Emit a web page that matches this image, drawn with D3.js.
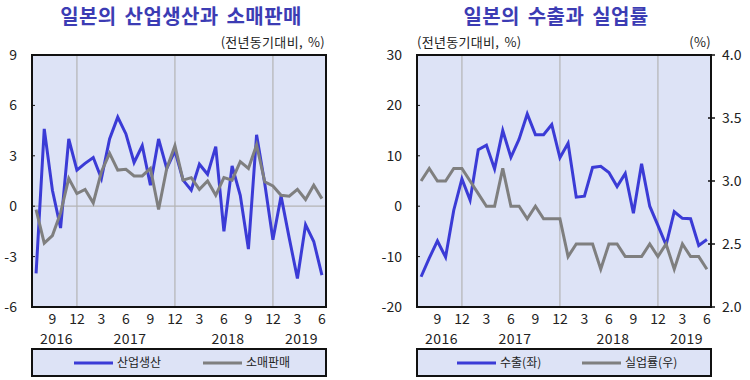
<!DOCTYPE html>
<html><head><meta charset="utf-8">
<script src="https://cdn.jsdelivr.net/npm/d3@7"></script>
<style>
html,body{margin:0;padding:0;background:#fff;}
svg{display:block;font-family:"Noto Sans CJK KR","Noto Sans",sans-serif;}
</style></head>
<body><svg id="c" width="750" height="380"></svg>
<script>
const months = ["2016-07","2016-08","2016-09","2016-10","2016-11","2016-12",
"2017-01","2017-02","2017-03","2017-04","2017-05","2017-06","2017-07","2017-08","2017-09","2017-10","2017-11","2017-12",
"2018-01","2018-02","2018-03","2018-04","2018-05","2018-06","2018-07","2018-08","2018-09","2018-10","2018-11","2018-12",
"2019-01","2019-02","2019-03","2019-04","2019-05","2019-06"];
const tickMonths = ["2016-09","2016-12","2017-03","2017-06","2017-09","2017-12","2018-03","2018-06","2018-09","2018-12","2019-03","2019-06"];
const tickLabels = ["9","12","3","6","9","12","3","6","9","12","3","6"];
const gridMonths = ["2016-12","2017-12","2018-12"];
const years = ["2016","2017","2018","2019"];
const yearSpans = [["2016-07","2016-12"],["2017-01","2017-12"],["2018-01","2018-12"],["2019-01","2019-06"]];

const industrialProduction = [-4.0,4.6,0.95,-1.3,4.0,2.15,2.55,2.9,1.65,4.0,5.3,4.3,2.6,3.6,1.25,4.0,2.25,3.3,
 1.55,0.95,2.5,1.9,3.55,-1.5,2.4,0.65,-2.55,4.25,1.35,-2.0,0.6,-1.9,-4.3,-1.1,-2.1,-4.1];
const retailSales = [-0.2,-2.2,-1.75,-0.4,1.65,0.75,1.0,0.2,2.05,3.15,2.15,2.2,1.8,1.8,2.25,-0.2,2.25,3.6,
 1.55,1.7,1.0,1.5,0.65,1.7,1.55,2.65,2.25,3.65,1.45,1.2,0.65,0.6,1.0,0.4,1.25,0.45];
const exportsYoY = [-14.0,-10.3,-6.9,-10.1,-0.8,5.4,1.2,11.2,12.1,7.4,15.0,9.7,13.3,18.3,14.2,14.2,16.2,9.6,
 12.5,1.8,2.0,7.7,7.9,6.7,3.9,6.5,-1.4,8.4,0.0,-3.8,-7.7,-1.1,-2.4,-2.5,-7.8,-6.6];
const unemployment = [3.0,3.1,3.0,3.0,3.1,3.1,3.0,2.9,2.8,2.8,3.1,2.8,2.8,2.7,2.8,2.7,2.7,2.7,
 2.4,2.5,2.5,2.5,2.3,2.5,2.5,2.4,2.4,2.4,2.5,2.4,2.5,2.3,2.5,2.4,2.4,2.3];

const leftTicks = [9,6,3,0,-3,-6];
const exportTicks = [30,20,10,0,-10,-20];
const unempTicks = [4.0,3.5,3.0,2.5,2.0];

const BLUE = "#3b3bd6", GRAY = "#7f7f7f", BG = "#dde3f6", TITLE = "#3c3cb4", TXT = "#222";
const svg = d3.select("#c");
const plotTop = 55, plotBottom = 307;

function drawPanel(cfg){
  const g = svg.append("g");
  const x = d3.scalePoint().domain(months).range([cfg.x0, cfg.x1]).padding(0.5);
  const yL = d3.scaleLinear().domain(cfg.yDomain).range([plotBottom, plotTop]);
  g.append("rect").attr("x",cfg.x0).attr("y",plotTop).attr("width",cfg.x1-cfg.x0).attr("height",plotBottom-plotTop).attr("fill",BG);
  g.selectAll(".vg").data(gridMonths).join("line")
    .attr("x1",d=>x(d)).attr("x2",d=>x(d)).attr("y1",plotTop).attr("y2",plotBottom)
    .attr("stroke","#b4b4b4").attr("stroke-width",1.2);
  if(cfg.zeroLine){
    g.append("line").attr("x1",cfg.x0).attr("x2",cfg.x1).attr("y1",yL(0)).attr("y2",yL(0))
      .attr("stroke","#b4b4b4").attr("stroke-width",1.2);
  }
  cfg.series.forEach(s=>{
    const y = s.scale || yL;
    const line = d3.line().x((d,i)=>x(months[i])).y(d=>y(d));
    g.append("path").datum(s.values).attr("d",line).attr("fill","none")
      .attr("stroke",s.color).attr("stroke-width",3).attr("stroke-linejoin","miter");
  });
  g.append("rect").attr("x",cfg.x0).attr("y",plotTop).attr("width",cfg.x1-cfg.x0).attr("height",plotBottom-plotTop)
    .attr("fill","none").attr("stroke","#111").attr("stroke-width",2);
  g.selectAll(".yl").data(cfg.leftTicks).join("text")
    .attr("x",cfg.x0-15).attr("y",d=>yL(d)).attr("dy","0.36em").attr("text-anchor","end")
    .attr("font-size",14).attr("fill",TXT).text(d=>d);
  g.selectAll(".ytk").data(cfg.leftTicks).join("line")
    .attr("x1",cfg.x0).attr("x2",cfg.x0+3).attr("y1",d=>yL(d)).attr("y2",d=>yL(d)).attr("stroke","#111").attr("stroke-width",1);
  if(cfg.right){
    const yR = cfg.right.scale;
    g.selectAll(".yr").data(cfg.right.ticks).join("text")
      .attr("x",cfg.x1+11).attr("y",d=>yR(d)).attr("dy","0.36em").attr("text-anchor","start")
      .attr("font-size",14).attr("fill",TXT).text(d=>d.toFixed(1));
    g.selectAll(".rtk").data(cfg.right.ticks).join("line")
      .attr("x1",cfg.x1-3).attr("x2",cfg.x1+4).attr("y1",d=>yR(d)).attr("y2",d=>yR(d)).attr("stroke","#111").attr("stroke-width",1.5);
  }
  g.selectAll(".xt").data(tickMonths).join("text")
    .attr("x",d=>x(d)).attr("y",324).attr("text-anchor","middle")
    .attr("font-size",14).attr("fill",TXT).text((d,i)=>tickLabels[i]);
  g.selectAll(".yr2").data(years).join("text")
    .attr("x",(d,i)=>(x(yearSpans[i][0])+x(yearSpans[i][1]))/2).attr("y",344).attr("text-anchor","middle")
    .attr("font-size",14).attr("letter-spacing",0.5).attr("fill",TXT).text(d=>d);
  g.append("text").attr("x",cfg.titleX).attr("y",24).attr("text-anchor","middle")
    .attr("font-size",20).attr("font-weight","bold").attr("letter-spacing",0.4).attr("word-spacing",3)
    .attr("fill",TITLE).text(cfg.title);
  cfg.notes.forEach(n=>{
    g.append("text").attr("x",n.x).attr("y",47).attr("text-anchor",n.anchor)
      .attr("font-size",13).attr("letter-spacing",0.3).attr("word-spacing",2).attr("fill",TXT).text(n.text);
  });
  g.append("rect").attr("x",cfg.x0).attr("y",349).attr("width",cfg.x1-cfg.x0).attr("height",27)
    .attr("fill",BG).attr("stroke","#111").attr("stroke-width",2);
  cfg.series.forEach((s,i)=>{
    const lx = cfg.legendX[i];
    g.append("line").attr("x1",lx).attr("x2",lx+39).attr("y1",363).attr("y2",363)
      .attr("stroke",s.color).attr("stroke-width",3);
    g.append("text").attr("x",lx+43).attr("y",363).attr("dy","0.36em").attr("font-size",12)
      .attr("fill",TXT).text(s.name);
  });
}

drawPanel({
  x0:32, x1:326, yDomain:[-6,9], zeroLine:true, leftTicks:leftTicks,
  title:"일본의 산업생산과 소매판매", titleX:181,
  notes:[{x:325, anchor:"end", text:"(전년동기대비, %)"}],
  series:[{name:"산업생산", values:industrialProduction, color:BLUE},
          {name:"소매판매", values:retailSales, color:GRAY}],
  legendX:[74,203]
});

const yUnemp = d3.scaleLinear().domain([2.0,4.0]).range([plotBottom, plotTop]);
drawPanel({
  x0:417, x1:711, yDomain:[-20,30], zeroLine:false, leftTicks:exportTicks,
  right:{scale:yUnemp, ticks:unempTicks},
  title:"일본의 수출과 실업률", titleX:556,
  notes:[{x:417, anchor:"start", text:"(전년동기대비, %)"},{x:711, anchor:"end", text:"(%)"}],
  series:[{name:"수출(좌)", values:exportsYoY, color:BLUE},
          {name:"실업률(우)", values:unemployment, color:GRAY, scale:yUnemp}],
  legendX:[457,582]
});
</script></body></html>
